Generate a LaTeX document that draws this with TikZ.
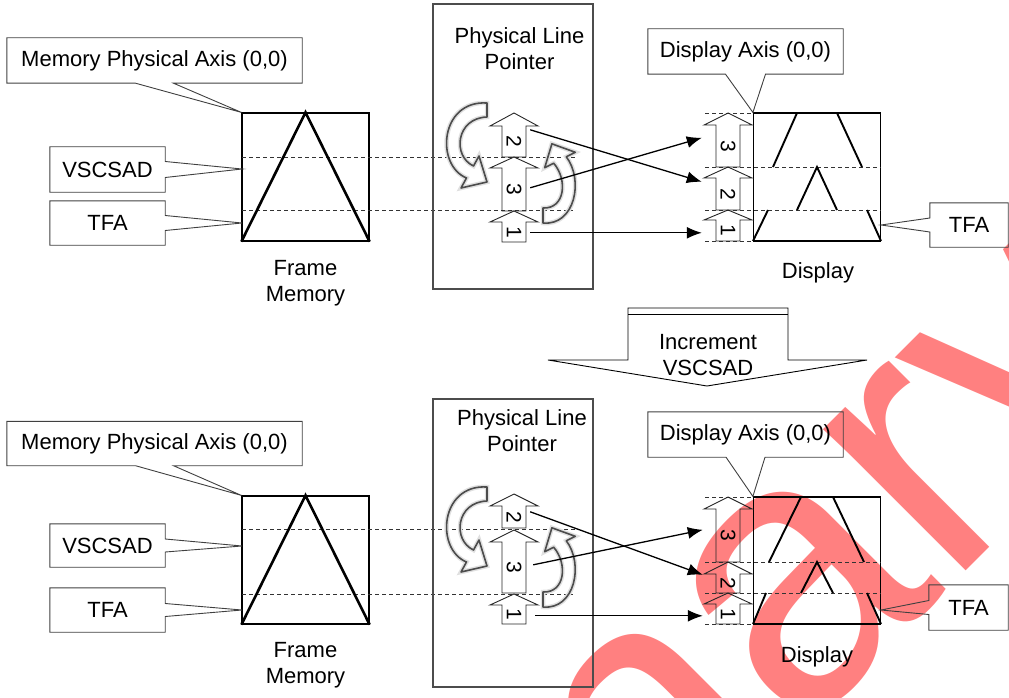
\documentclass[tikz,border=0pt]{standalone}
\usepackage{fontspec}
\setmainfont{Liberation Sans}
\usetikzlibrary{positioning, arrows.meta}

% block arrow of one physical line: name, x, apex y, head base y, bottom y, digit
\newcommand{\lineptr}[6]{%
  \draw[ptrline] ({#2-12},#5) -- ({#2-12},#4) -- ({#2-24},#4) -- (#2,#3)
    -- ({#2+24},#4) -- ({#2+12},#4) -- ({#2+12},#5) -- cycle;
  \node[ptrtext, minimum height={#5-#4}] (#1) at (#2,{(#4+#5)/2}) {\rotatebox{-90}{#6}};
}

% callout outlines: box node, half width of the wedge base, tip
\newcommand{\callbelow}[3]{%
  \draw[callline] (#1.south west) -- (#1.north west) -- (#1.north east) -- (#1.south east)
    -- ([xshift=#2]#1.south) -- #3 -- ([xshift=-#2]#1.south) -- cycle;
}
\newcommand{\callright}[3]{%
  \draw[callline] (#1.north east) -- (#1.north west) -- (#1.south west) -- (#1.south east)
    -- ([yshift=-#2]#1.east) -- #3 -- ([yshift=#2]#1.east) -- cycle;
}
\newcommand{\callleft}[3]{%
  \draw[callline] (#1.north west) -- (#1.north east) -- (#1.south east) -- (#1.south west)
    -- ([yshift=-#2]#1.west) -- #3 -- ([yshift=#2]#1.west) -- cycle;
}

% the two turning arrows inside the pointer box
\newcommand{\plpcurls}{%
  \draw[curl] (487,103) .. controls (440,100) and (435,165) .. (466.5,178)
    -- (461,188) -- (487,182) -- (479,156) -- (473.5,166)
    .. controls (452,156) and (456,118) .. (487,117) -- cycle;
  \draw[curl] (543,223) .. controls (575,226) and (584,180) .. (566.3,156.8)
    -- (575.3,152.3) -- (551.9,143.8) -- (544.7,167.7) -- (553.7,163.2)
    .. controls (568,180) and (565,209) .. (543,208) -- cycle;
}

\begin{document}
\begin{tikzpicture}[
  x=1pt, y=-1pt,
  txt/.style={
    font=\fontsize{22}{26}\selectfont,
    align=center,
    inner sep=0pt
  },
  callbox/.style={txt},
  callline/.style={draw=black!75, line width=0.9pt},
  framebox/.style={
    draw=black,
    line width=1.2pt,
    minimum width=127pt,
    minimum height=128pt,
    inner sep=0pt
  },
  plpbox/.style={
    draw=black!70,
    line width=1.2pt,
    minimum width=160pt,
    inner sep=0pt
  },
  guide/.style={
    draw=black!80,
    line width=0.8pt,
    dash pattern=on 4pt off 3pt
  },
  tri/.style={line width=2.6pt},
  disptri/.style={line width=1.9pt},
  ptrline/.style={draw=black!85, line width=0.9pt},
  ptrtext/.style={
    minimum width=24pt,
    inner sep=0pt,
    font=\fontsize{21}{21}\selectfont
  },
  curl/.style={
    draw=black!70, line width=1.6pt, line join=round,
    preaction={draw=black!12, line width=4.5pt}
  },
  conn/.style={
    -{Latex[length=15pt, width=12pt]},
    line width=1.3pt
  },
  wmark/.style={
    text=red!50,
    font=\fontsize{380}{380}\selectfont,
    inner sep=0pt
  }
]

\useasboundingbox (0,0) rectangle (1009,698);

% watermark
\begin{scope}
  \clip (0,0) rectangle (1009,698);
  \node[wmark, rotate=45] (wm) at (430,968) {Preliminary};
\end{scope}

%%%%% before the increment

\node[framebox] (mem) at (305.5,177) {};
\draw[guide] (242,157) -- (577,157);
\draw[guide] (242,210) -- (573,210);
\draw[tri] (mem.south west) -- (mem.north) -- (mem.south east);
\node[txt] (memlbl) at (305.5,283) {Frame\\Memory};

\node[callbox, minimum width=295pt, minimum height=45pt] (memaxis) at (154.5,60.5) {Memory Physical Axis (0,0)};
\node[callbox, minimum width=115pt, minimum height=45pt] (vscsad) at (107.5,169.5) {VSCSAD};
\node[callbox, minimum width=115pt, minimum height=44pt] (tfa) at (107.5,223) {TFA};
\callbelow{memaxis}{19pt}{(mem.north west)}
\callright{vscsad}{8pt}{(242,169)}
\callright{tfa}{7.5pt}{(242,223)}

\node[plpbox, minimum height=285pt] (plp) at (513,146.5) {};
\node[txt] (plptitle) at (519.5,49) {Physical Line\\Pointer};
\plpcurls
\lineptr{plp2}{514}{113}{126}{157}{2}
\lineptr{plp3}{514}{157}{168}{211}{3}
\lineptr{plp1}{514}{211}{222}{242}{1}

\node[framebox] (disp) at (817,177) {};
\draw[guide] (705,113) -- (753,113);
\draw[guide] (705,167) -- (881,167);
\draw[guide] (705,210) -- (881,210);
\draw[guide] (705,241) -- (753,241);
\draw[disptri] (773,167) -- (797,113) (837,113) -- (862,167)
  (797,210) -- (817,167) -- (837,210)
  (768,210) -- (753,241) (867,210) -- (881,241);
\lineptr{dsp3}{728}{113}{125}{167}{3}
\lineptr{dsp2}{728}{167}{178}{210}{2}
\lineptr{dsp1}{728}{210}{220}{241}{1}
\node[txt] (displbl) at (818,273) {Display};

\node[callbox, minimum width=195pt, minimum height=45pt] (dispaxis) at (745.5,51.5) {Display Axis (0,0)};
\node[callbox, minimum width=78pt, minimum height=44pt] (tfar) at (969,225) {TFA};
\callbelow{dispaxis}{20pt}{(disp.north west)}
\callleft{tfar}{7pt}{(881,225)}

\draw[conn] ([shift={(4,4)}]plp2.north east) -- ([shift={(-14,4)}]dsp2.north west);
\draw[conn] ([shift={(4,20)}]plp3.north east) -- ([shift={(-14,13)}]dsp3.north west);
\draw[conn] ([shift={(4,11)}]plp1.north east) -- ([shift={(-14,13)}]dsp1.north west);

%%%%% increment

\draw[line width=0.9pt] (628,308) -- (628,360) -- (548,360) -- (707,386)
  -- (867,360) -- (788,360) -- (788,308) -- cycle;
\draw[line width=0.9pt] (628,314) -- (788,314);
\node[txt] (incr) at (708,355) {Increment\\VSCSAD};

%%%%% after the increment

\node[framebox] (memb) at (305.5,560) {};
\draw[guide] (242,529) -- (577,529);
\draw[guide] (242,594) -- (573,594);
\draw[tri] (memb.south west) -- (memb.north) -- (memb.south east);
\node[txt] (memlblb) at (305.5,665.5) {Frame\\Memory};

\node[callbox, minimum width=295pt, minimum height=44pt] (memaxisb) at (154.5,443.5) {Memory Physical Axis (0,0)};
\node[callbox, minimum width=115pt, minimum height=43pt] (vscsadb) at (107.5,545.5) {VSCSAD};
\node[callbox, minimum width=115pt, minimum height=44pt] (tfab) at (107.5,610) {TFA};
\callbelow{memaxisb}{19pt}{(memb.north west)}
\callright{vscsadb}{6.5pt}{(242,546)}
\callright{tfab}{6.5pt}{(242,610)}

\node[plpbox, minimum height=288pt] (plpb) at (513,543) {};
\node[txt] (plptitleb) at (522,431) {Physical Line\\Pointer};
\begin{scope}[yshift=-384pt]
  \plpcurls
\end{scope}
\lineptr{plpb2}{514}{494}{506}{528}{2}
\lineptr{plpb3}{514}{530}{542}{593}{3}
\lineptr{plpb1}{514}{594}{605}{624}{1}

\node[framebox, minimum height=127pt] (dispb) at (817,560.5) {};
\draw[guide] (705,497) -- (753,497);
\draw[guide] (705,562) -- (881,562);
\draw[guide] (705,593) -- (881,593);
\draw[guide] (705,624) -- (753,624);
\draw[disptri] (769,562) -- (801,497) (833,497) -- (864,562)
  (801,593) -- (817,562) -- (833,593)
  (766,593) -- (753,624) (867,593) -- (881,624);
\lineptr{dspb3}{728}{497}{509}{562}{3}
\lineptr{dspb2}{728}{562}{574}{593}{2}
\lineptr{dspb1}{728}{593}{604}{624}{1}
\node[txt] (displblb) at (817,656.5) {Display};

\node[callbox, minimum width=195pt, minimum height=45pt] (dispaxisb) at (745.5,434.5) {Display Axis (0,0)};
\node[callbox, minimum width=79pt, minimum height=45pt] (tfarb) at (968.5,607.5) {TFA};
\callbelow{dispaxisb}{19.5pt}{(dispb.north west)}
\callleft{tfarb}{7pt}{(881,610)}

\draw[conn] ([shift={(4,6)}]plpb2.north east) -- ([shift={(-13,1)}]dspb2.north west);
\draw[conn] ([shift={(7,23)}]plpb3.north east) -- ([shift={(-13,21)}]dspb3.north west);
\draw[conn] ([shift={(9,11)}]plpb1.north east) -- ([shift={(-13,12)}]dspb1.north west);

\end{tikzpicture}
\end{document}
